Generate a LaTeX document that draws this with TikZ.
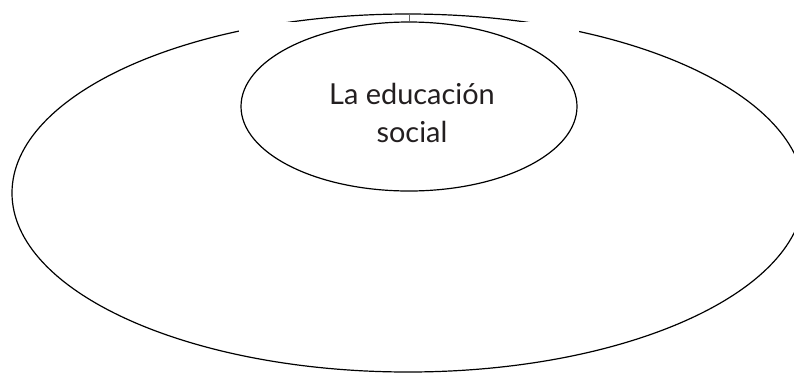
\documentclass[tikz,border=0pt]{standalone}
\usepackage{fontspec}
\setmainfont{Lato}
\usetikzlibrary{shapes.geometric}
\definecolor{inktext}{HTML}{231F20}
\tikzset{
  ring/.style={draw=black, line width=1.2bp},
  label/.style={text=inktext, align=center, font=\fontsize{29}{38}\selectfont, inner sep=0pt}
}
\begin{document}
\begin{tikzpicture}[x=1bp,y=-1bp]
\useasboundingbox (0,0) rectangle (794,372);
\clip (0,0) rectangle (794,372);
\draw[ring] (408,193) ellipse [x radius=396, y radius=179];
\fill[white] (239,21.5) rectangle (579,194);
\coordinate (top) at (409,14);
\node[ellipse, ring, minimum width=336bp, minimum height=169bp, inner sep=0pt] (inner) at (409,106.5) {};
\draw[black!60, line width=0.3bp] (top) -- (inner.north);
\node[label, anchor=base] (txt) at (412,142) {La educación\\social};
\end{tikzpicture}
\end{document}
